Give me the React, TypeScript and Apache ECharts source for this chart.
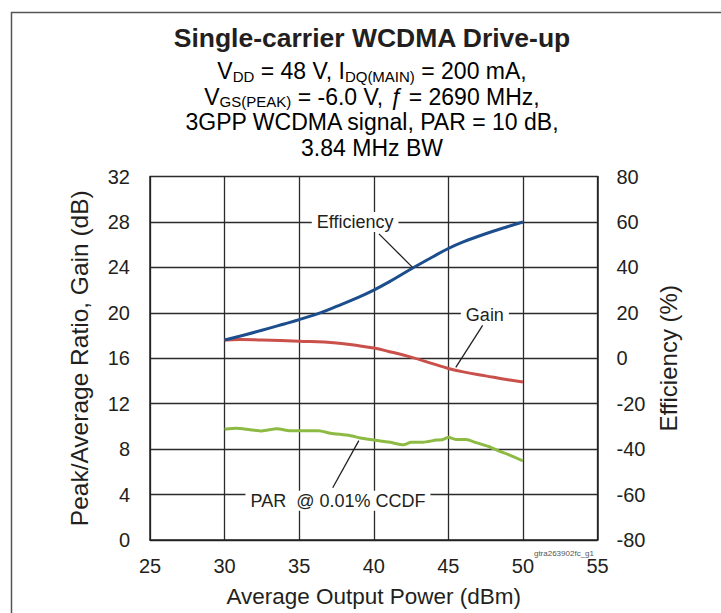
import React, { useEffect, useRef } from "react";
import * as echarts from "echarts";

const FONT = "'Liberation Sans', Arial, Helvetica, sans-serif";

// Axis ticks
const xTicks = { min: 25, max: 55, step: 5 };
const leftTicks = { min: 0, max: 32, step: 4 };
const rightTicks = { min: -80, max: 80, step: 20 };

// Efficiency (%) vs Pout (dBm) - right axis
const effX = [30, 31, 32.5, 34, 35, 36.5, 37.5, 39, 40, 41, 42.5, 44, 45, 46, 47.5, 49, 50];
const effY = [8, 9.7, 12.3, 15.1, 17, 20.2, 22.8, 26.9, 30, 33.5, 39.3, 44.8, 48.3, 51.2, 54.8, 58, 60];

// Gain (dB) - left axis
const gainX = [30, 31, 32.5, 35, 37.5, 39, 40, 41, 42.5, 44, 45, 46, 47.5, 49, 50];
const gainY = [17.6, 17.65, 17.6, 17.5, 17.35, 17.1, 16.9, 16.6, 16.1, 15.5, 15.1, 14.8, 14.45, 14.1, 13.9];

// PAR @ 0.01% CCDF (dB) - left axis
const parX = [30, 30.8, 31.7, 32.5, 33.5, 34.4, 35, 36.3, 37.1, 38.4, 39.1, 40, 41.1, 42, 42.5, 43.3, 44.2, 44.6, 45, 45.5, 46.2, 46.8, 47.7, 48.4, 49, 50];
const parY = [9.74, 9.83, 9.7, 9.6, 9.8, 9.62, 9.62, 9.62, 9.4, 9.2, 8.98, 8.81, 8.6, 8.38, 8.6, 8.6, 8.8, 8.82, 9.04, 8.85, 8.84, 8.6, 8.23, 7.83, 7.54, 6.96];

// Annotations (label anchor and leader line endpoints in data coordinates, left axis)
const annotations = [
  { text: "Efficiency", at: [38.75, 28], from: [40.35, 26.95], to: [42.6, 24.0] },
  { text: "Gain", at: [47.45, 19.85], from: [47.3, 18.9], to: [45.5, 15.2] },
  { text: "PAR  @ 0.01% CCDF", at: [37.6, 3.45], from: [37.25, 4.6], to: [39.0, 8.75] },
];

const titleText = "Single-carrier WCDMA Drive-up";
const subtitleLines = [
  "{n|V}{s|DD}{n| = 48 V, I}{s|DQ(MAIN)}{n| = 200 mA,}",
  "{n|V}{s|GS(PEAK)}{n| = -6.0 V, }{i|ƒ}{n| = 2690 MHz,}",
  "{n|3GPP WCDMA signal, PAR = 10 dB,}",
  "{n|3.84 MHz BW}",
];

const zip = (xs: number[], ys: number[]) => xs.map((x, i) => [x, ys[i]]);

export default function App() {
  const ref = useRef<HTMLDivElement>(null);
  useEffect(() => {
    if (!ref.current) return;
    const chart = echarts.init(ref.current, undefined, { renderer: "svg" });
    const ink = "#231f20";
    const axisLabel = { fontSize: 20, color: ink, fontFamily: FONT };
    const nameStyle = { fontSize: 24.5, color: ink, fontFamily: FONT };
    const rich = {
      n: { fontSize: 23, fontFamily: FONT, color: ink, lineHeight: 25 },
      i: { fontSize: 23, fontFamily: FONT, fontStyle: "italic" as const, color: ink, lineHeight: 25 },
      s: { fontSize: 15, fontFamily: FONT, color: ink, lineHeight: 13, verticalAlign: "bottom" as const },
    };
    const option: any = {
      animation: false,
      backgroundColor: "#ffffff",
      textStyle: { fontFamily: FONT },
      grid: { left: 150, top: 176.5, width: 447.5, height: 369, containLabel: false },
      xAxis: {
        type: "value",
        min: xTicks.min,
        max: xTicks.max,
        interval: xTicks.step,
        axisLine: { show: true, lineStyle: { color: ink, width: 1.5 } },
        axisTick: { show: false },
        splitLine: { show: true, lineStyle: { color: "#2b2b2b", width: 1.3 } },
        axisLabel: { ...axisLabel, margin: 16 },
        name: "Average Output Power (dBm)",
        nameLocation: "middle",
        nameGap: 45,
        nameTextStyle: { ...nameStyle, fontSize: 22.5 },
      },
      yAxis: [
        {
          type: "value",
          position: "left",
          min: leftTicks.min,
          max: leftTicks.max,
          interval: leftTicks.step,
          axisLine: { show: true, lineStyle: { color: ink, width: 1.5 } },
          axisTick: { show: false },
          splitLine: { show: true, lineStyle: { color: "#2b2b2b", width: 1.3 } },
          axisLabel: { ...axisLabel, margin: 20 },
          name: "Peak/Average Ratio, Gain (dB)",
          nameLocation: "middle",
          nameGap: 58,
          nameTextStyle: nameStyle,
        },
        {
          type: "value",
          position: "right",
          min: rightTicks.min,
          max: rightTicks.max,
          interval: rightTicks.step,
          axisLine: { show: true, lineStyle: { color: ink, width: 1.5 } },
          axisTick: { show: false },
          splitLine: { show: false },
          axisLabel: { ...axisLabel, margin: 19 },
          name: "Efficiency (%)",
          nameLocation: "middle",
          nameGap: 59,
          nameTextStyle: { ...nameStyle, fontSize: 24 },
        },
      ],
      series: [
        {
          name: "Efficiency",
          type: "line",
          yAxisIndex: 1,
          data: zip(effX, effY),
          smooth: 0.4,
          symbol: "none",
          lineStyle: { color: "#1c4d8c", width: 3 },
          z: 5,
        },
        {
          name: "Gain",
          type: "line",
          yAxisIndex: 0,
          data: zip(gainX, gainY),
          smooth: 0.4,
          symbol: "none",
          lineStyle: { color: "#c9504b", width: 3 },
          z: 4,
        },
        {
          name: "PAR @ 0.01% CCDF",
          type: "line",
          yAxisIndex: 0,
          data: zip(parX, parY),
          smooth: 0.2,
          symbol: "none",
          lineStyle: { color: "#8dba43", width: 3 },
          z: 3,
        },
      ],
    };
    chart.setOption(option);

    const px = (p: number[]) => chart.convertToPixel({ xAxisIndex: 0, yAxisIndex: 0 }, p) as number[];
    const graphics: any[] = [
      {
        type: "rect",
        shape: { x: 11.5, y: 12.5, width: 800, height: 700 },
        style: { fill: "none", stroke: "#555555", lineWidth: 1.5 },
        silent: true,
        z: 1,
      },
      {
        type: "text",
        x: 372,
        y: 38,
        style: {
          text: titleText,
          font: `bold 26.5px ${FONT}`,
          fill: ink,
          align: "center",
          verticalAlign: "middle",
        },
        z: 10,
      },
    ];
    const lineY = [71, 96.5, 122, 147.5];
    subtitleLines.forEach((t, k) => {
      graphics.push({
        type: "text",
        x: 372,
        y: lineY[k],
        style: {
          text: t,
          rich,
          align: "center",
          verticalAlign: "middle",
        },
        z: 10,
      });
    });
    annotations.forEach((a) => {
      const p = px(a.at);
      const f = px(a.from);
      const t = px(a.to);
      graphics.push({
        type: "line",
        shape: { x1: f[0], y1: f[1], x2: t[0], y2: t[1] },
        style: { stroke: ink, lineWidth: 1.3 },
        z: 20,
      });
      graphics.push({
        type: "text",
        x: p[0],
        y: p[1],
        style: {
          text: a.text,
          font: `18px ${FONT}`,
          fill: ink,
          align: "center",
          verticalAlign: "middle",
          backgroundColor: "#ffffff",
          padding: [1, 5, 1, 5],
        },
        z: 21,
      });
    });
    graphics.push({
      type: "text",
      x: 594,
      y: 553,
      style: {
        text: "gtra263902fc_g1",
        font: `8px ${FONT}`,
        fill: "#555555",
        align: "right",
        verticalAlign: "middle",
      },
      z: 10,
    });
    chart.setOption({ graphic: graphics });
    return () => chart.dispose();
  }, []);
  return (
    <div
      ref={ref}
      style={{ position: "fixed", left: 0, top: 0, width: 721, height: 613, background: "#fff" }}
    />
  );
}
